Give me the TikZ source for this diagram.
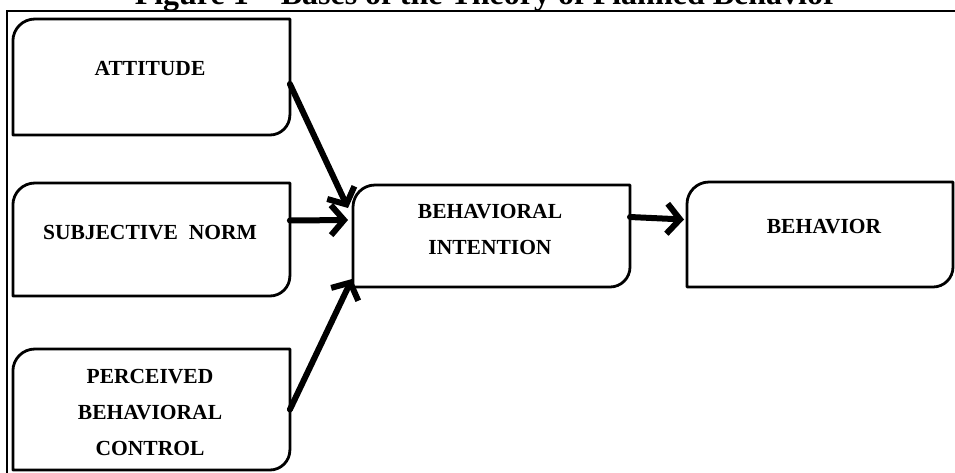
\documentclass[tikz,border=0pt]{standalone}
\usepackage{fontspec}
\setmainfont{Liberation Serif}
\usetikzlibrary{arrows.meta}
\tikzset{
  boxline/.style={line width=2.8pt, line join=round},
  boxnode/.style={inner sep=0pt, outer sep=0pt, minimum width=277pt},
  lbl/.style={font=\fontsize{21.5}{36}\selectfont\bfseries, align=center, inner sep=0pt},
  titlefont/.style={font=\fontsize{32}{36}\selectfont\bfseries, inner sep=0pt},
  arr/.style={line width=6pt, line cap=round, -{Straight Barb[length=13pt,width=30pt]}},
  frame/.style={line width=2.6pt}
}
\newcommand\tpbshape[1]{%
  \draw[boxline] (#1.north east) -- ([xshift=22pt]#1.north west)
    arc[start angle=90,end angle=180,radius=22pt] -- (#1.south west)
    -- ([xshift=-20pt]#1.south east)
    arc[start angle=270,end angle=360,radius=20pt] -- cycle;}
\begin{document}
\begin{tikzpicture}[x=1pt,y=-1pt]
\useasboundingbox (0,0) rectangle (955,472);
% title (clipped by the page top)
\node[titlefont, anchor=base] (title) at (486,4) {Figure 1 -- Bases of the Theory of Planned Behavior};
% outer frame
\draw[frame] (7,476) -- (7,11) -- (960,11);
% boxes
\node[boxnode, minimum height=116pt] (att) at (151.4,77) {};
\node[boxnode, minimum height=113pt] (sn) at (151.4,239.5) {};
\node[boxnode, minimum height=121pt] (pbc) at (151.4,409.5) {};
\node[boxnode, minimum height=102pt] (bi) at (491.5,236) {};
\node[boxnode, minimum width=266pt, minimum height=105pt] (beh) at (820,234.5) {};
\tpbshape{att}
\tpbshape{sn}
\tpbshape{pbc}
\tpbshape{bi}
\tpbshape{beh}
% texts (anchor base = baseline of the last line)
\node[lbl, anchor=base] (att-t) at (150,75) {ATTITUDE};
\node[lbl, anchor=base] (sn-t) at (150,239) {SUBJECTIVE\ \ NORM};
\node[lbl, anchor=base] (pbc-t) at (150,455) {PERCEIVED\\BEHAVIORAL\\CONTROL};
\node[lbl, anchor=base] (bi-t) at (490,254) {BEHAVIORAL\\INTENTION};
\node[lbl, anchor=base] (beh-t) at (824,233) {BEHAVIOR};
% arrows
\draw[arr] ([yshift=-7pt]att.east) -- ([xshift=-5pt,yshift=-23pt]bi.north west);
\draw[arr] ([yshift=19pt]sn.east) -- ([xshift=-5pt,yshift=16pt]bi.west);
\draw[arr] (pbc.east) -- ([xshift=-1pt,yshift=8pt]bi.south west);
\draw[arr] ([yshift=19pt]bi.east) -- ([xshift=-3pt,yshift=15pt]beh.west);
\end{tikzpicture}
\end{document}
